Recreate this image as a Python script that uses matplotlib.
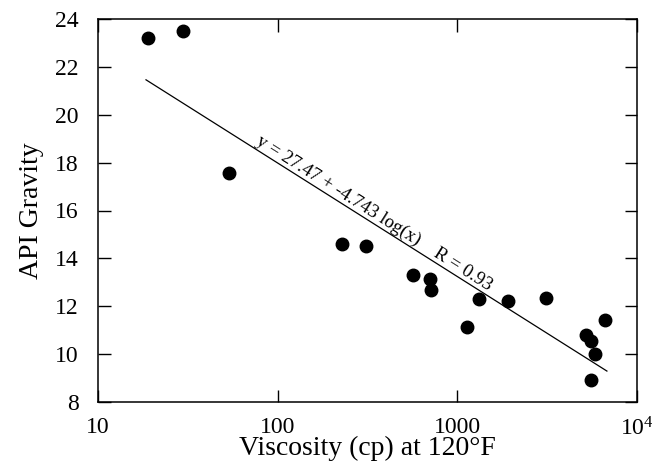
import numpy as np
import matplotlib
matplotlib.use("Agg")
import matplotlib.pyplot as plt
import matplotlib.transforms as mtrans
from matplotlib.ticker import FixedLocator, FixedFormatter, NullLocator

plt.rcParams['font.family'] = ['Liberation Serif', 'DejaVu Serif']
plt.rcParams['mathtext.fontset'] = 'custom'
plt.rcParams['mathtext.rm'] = 'Liberation Serif'

viscosity = [19.1, 29.7, 53.3, 229, 312, 566, 706, 718, 1138, 1312, 1914, 3103,
             5190, 5570, 5850, 6620, 5570]
api_gravity = [23.19, 23.51, 17.58, 14.59, 14.52, 13.29, 13.12, 12.67, 11.13, 12.31,
               12.20, 12.33, 10.81, 10.53, 10.01, 11.41, 8.91]
fit_intercept = 27.47
fit_slope = -4.743
fit_range = [18.5, 6800]
x_ticks = [10, 100, 1000, 10000]
x_ticklabels = ['10', '100', '1000', r'$\mathregular{10^4}$']
y_ticks = [8, 10, 12, 14, 16, 18, 20, 22, 24]

fig = plt.figure(figsize=(6.63, 4.68), dpi=100)
ax = fig.add_axes([98/663, 1-402/468, (637-98)/663, (402-19)/468])

ax.plot(viscosity, api_gravity, 'o', color='black', markersize=9, zorder=3)
xf = np.logspace(np.log10(fit_range[0]), np.log10(fit_range[1]), 50)
yf = fit_intercept + fit_slope * np.log10(xf)
ax.plot(xf, yf, color='black', linewidth=0.9)

ax.set_xscale('log')
ax.set_xlim(10, 10000)
ax.set_ylim(8, 24)
ax.xaxis.set_major_locator(FixedLocator(x_ticks))
ax.xaxis.set_major_formatter(FixedFormatter(x_ticklabels))
ax.xaxis.set_minor_locator(NullLocator())
ax.set_yticks(y_ticks)
ax.set_yticklabels([str(v) for v in y_ticks])

ax.tick_params(axis='both', which='major', direction='in', length=9, width=1,
               top=True, right=True, labelsize=17)
ax.tick_params(axis='y', pad=14)
ax.tick_params(axis='x', pad=11)
for s in ax.spines.values():
    s.set_linewidth(1.1)

ax.set_xlabel('Viscosity (cp) at 120°F', fontsize=20, labelpad=-3)
ax.set_ylabel('API Gravity', fontsize=20, labelpad=8)

# rotated equation label along fit line
x0 = 73
y0 = fit_intercept + fit_slope * np.log10(x0)
p1 = ax.transData.transform((fit_range[0], fit_intercept + fit_slope*np.log10(fit_range[0])))
p2 = ax.transData.transform((fit_range[1], fit_intercept + fit_slope*np.log10(fit_range[1])))
ang = np.degrees(np.arctan2(p2[1]-p1[1], p2[0]-p1[0]))
off = mtrans.offset_copy(ax.transData, fig=fig, x=2, y=4, units='dots')
ax.text(x0, y0, 'y = 27.47 + -4.743 log(x)    R = 0.93', rotation=ang,
        rotation_mode='anchor', ha='left', va='baseline', fontsize=13.5,
        transform=off)

fig.savefig('out.png', dpi=100)
